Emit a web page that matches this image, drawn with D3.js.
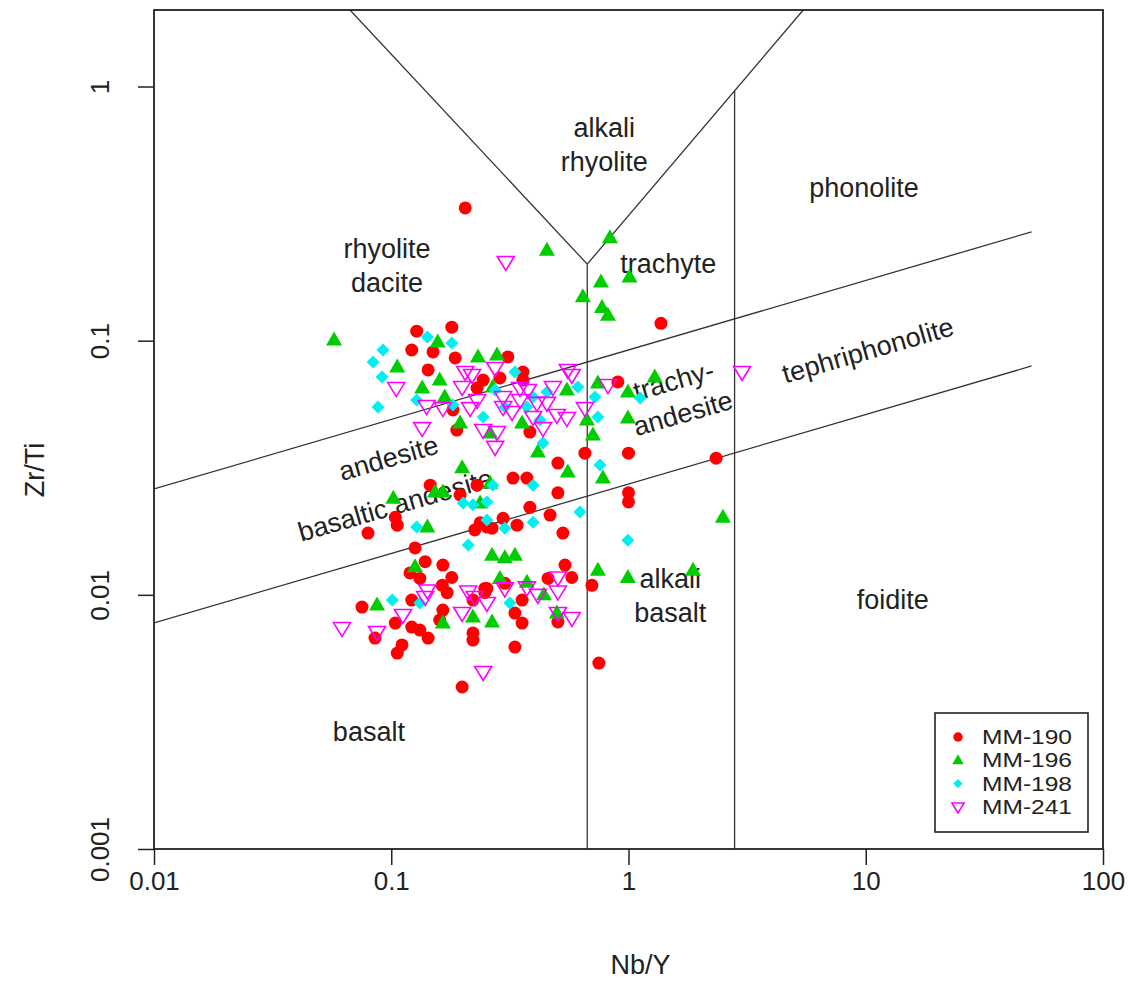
<!DOCTYPE html>
<html><head><meta charset="utf-8">
<script src="https://cdn.jsdelivr.net/npm/d3@7"></script>
<style>
body{margin:0;background:#fff}
text{font-family:"Liberation Sans",Arial,Helvetica,sans-serif;fill:#222}
</style>
</head><body>
<svg id="chart" width="1128" height="990"></svg>
<script>
// ---- data: [Nb/Y, Zr/Ti] ----
const mm190 = [
[0.205,0.333],[1.37,0.117],[0.902,0.0688],[1.00,0.0361],[2.34,0.0345],[1.00,0.0252],[1.00,0.0232],
[0.701,0.0109],[0.750,0.00539],[0.128,0.109],[0.122,0.0919],[0.180,0.113],[0.150,0.0903],[0.186,0.0855],
[0.143,0.0767],[0.310,0.0863],[0.359,0.0753],[0.359,0.0700],[0.244,0.0700],[0.230,0.0651],[0.287,0.0713],
[0.182,0.0534],[0.189,0.0445],[0.384,0.0437],[0.655,0.0361],[0.504,0.0330],[0.326,0.0288],[0.373,0.0288],
[0.504,0.0252],[0.384,0.0221],[0.467,0.0206],[0.529,0.0175],[0.253,0.0185],[0.296,0.0200],[0.339,0.0188],
[0.540,0.0131],[0.577,0.0117],[0.458,0.0116],[0.248,0.0106],[0.301,0.0111],[0.356,0.00954],[0.332,0.00848],
[0.356,0.00774],[0.504,0.00782],[0.332,0.00623],[0.0798,0.0175],[0.104,0.0202],[0.106,0.0188],[0.126,0.0153],
[0.139,0.0135],[0.165,0.0131],[0.180,0.0117],[0.120,0.0122],[0.164,0.0109],[0.172,0.0102],[0.0753,0.00895],
[0.122,0.00954],[0.104,0.00774],[0.122,0.00747],[0.132,0.00727],[0.143,0.00676],[0.0854,0.00676],[0.111,0.00635],
[0.106,0.00590],[0.165,0.00871],[0.160,0.00796],[0.221,0.00708],[0.221,0.00664],[0.199,0.00434],[0.230,0.0270],
[0.195,0.0247],[0.225,0.0180],[0.237,0.0192],[0.266,0.0183],[0.253,0.0106],[0.221,0.00954],[0.248,0.0102],
[0.146,0.0270],[0.132,0.0116]
];
const mm196 = [
[0.453,0.227],[0.835,0.254],[0.765,0.170],[1.01,0.178],[0.642,0.149],[0.773,0.135],[0.819,0.126],
[1.29,0.0720],[0.994,0.0628],[0.994,0.0496],[2.50,0.0202],[0.550,0.0640],[0.743,0.0682],[0.668,0.0487],
[0.708,0.0425],[0.555,0.0304],[0.780,0.0288],[0.266,0.0143],[0.301,0.0140],[0.332,0.0143],[0.743,0.0125],
[0.994,0.0117],[1.87,0.0125],[0.266,0.00782],[0.287,0.0116],[0.373,0.0112],[0.44,0.0100],[0.499,0.00848],
[0.199,0.0316],[0.153,0.0254],[0.165,0.0254],[0.102,0.0240],[0.142,0.0185],[0.126,0.0129],[0.0871,0.00912],
[0.165,0.00774],[0.221,0.00818],[0.237,0.0230],[0.261,0.0275],[0.0574,0.1006],[0.106,0.0788],[0.135,0.0651],
[0.157,0.0988],[0.160,0.0700],[0.168,0.0600],[0.232,0.0863],[0.279,0.0878],[0.195,0.0474],[0.356,0.0474],
[0.415,0.0365],[0.261,0.0433],[0.268,0.0657]
];
const mm198 = [
[0.0923,0.0919],[0.0838,0.0825],[0.0914,0.0720],[0.0879,0.0548],[0.128,0.0584],[0.142,0.1034],[0.180,0.0979],
[0.182,0.0558],[0.332,0.0753],[0.274,0.0640],[0.436,0.0396],[0.612,0.0657],[0.722,0.0600],[0.244,0.0501],
[0.373,0.0548],[0.396,0.0600],[0.423,0.0487],[0.301,0.0548],[1.12,0.0595],[0.743,0.0501],[0.453,0.0628],
[0.994,0.0164],[0.396,0.0270],[0.268,0.0270],[0.253,0.0232],[0.396,0.0193],[0.624,0.0212],[0.301,0.0183],
[0.316,0.00929],[0.758,0.0324],[0.128,0.0185],[0.211,0.0157],[0.101,0.00954],[0.132,0.00929],[0.201,0.0230],
[0.221,0.0226],[0.253,0.0197]
];
const mm241 = [
[0.304,0.204],[3.01,0.0753],[0.105,0.0651],[0.135,0.0453],[0.141,0.0553],[0.165,0.0543],[0.205,0.0753],
[0.274,0.0781],[0.199,0.0657],[0.244,0.0445],[0.274,0.0382],[0.323,0.0524],[0.396,0.0501],[0.436,0.0453],
[0.499,0.0510],[0.577,0.0733],[0.480,0.0657],[0.655,0.0543],[0.550,0.0496],[0.296,0.0600],[0.349,0.0584],
[0.411,0.0569],[0.230,0.0584],[0.377,0.0640],[0.219,0.0733],[0.296,0.0548],[0.279,0.0437],[0.349,0.0651],
[0.453,0.0569],[0.215,0.0543],[0.555,0.0767],[0.819,0.0669],[0.0620,0.00740],[0.0871,0.00714],[0.142,0.0104],
[0.112,0.00833],[0.199,0.00848],[0.211,0.0103],[0.225,0.00980],[0.253,0.00929],[0.244,0.00497],[0.301,0.0106],
[0.373,0.0107],[0.415,0.0100],[0.504,0.0117],[0.504,0.0103],[0.504,0.00848],[0.577,0.00811],[0.139,0.00980]
];
const seriesNames = ["MM-190","MM-196","MM-198","MM-241"];
const seriesColors = ["#ff0000","#00cd00","#00f0f0","#ff00ff"];
const xTicks = [0.01,0.1,1,10,100];
const xTickLabels = ["0.01","0.1","1","10","100"];
const yTicks = [0.001,0.01,0.1,1];
const yTickLabels = ["0.001","0.01","0.1","1"];
const xDomain = [0.01,100];
const yDomain = [0.001,2];
// field boundaries (Nb/Y, Zr/Ti)
const leftArm = [[0.067,2],[0.67,0.2]];
const rightArm = [[0.67,0.2],[5.45,2]];
const vertLeft = [[0.67,0.001],[0.67,0.2]];
const vertRight = [[2.8,0.001],[2.8,0.963]];
const upperSlope = [[0.01,0.0261],[50,0.268]];
const lowerSlope = [[0.01,0.00775],[50,0.0795]];
const fieldLabelText = [["alkali","rhyolite"],["phonolite"],["rhyolite","dacite"],["trachyte"],["tephriphonolite"],
  ["trachy-","andesite"],["andesite"],["basaltic andesite"],["alkali","basalt"],["foidite"],["basalt"]];
const fieldLabelPos = [[0.79,0.589],[9.84,0.399],[0.0959,0.197],[1.47,0.202],[10.2,0.0919],
  [1.62,0.0601],[0.0973,0.0346],[0.104,0.0226],[1.50,0.0099],[13.0,0.00955],[0.0805,0.00289]];
const fieldLabelAngle = [0,0,0,0,-16,-16,-16,-16,0,0,0];

// ---- drawing ----
const svg = d3.select("#chart");
const L=154, R=1103, T=10, B=849;
const x = d3.scaleLog().domain(xDomain).range([L,R]);
const y = d3.scaleLog().domain(yDomain).range([B,T]);

svg.append("clipPath").attr("id","clip").append("rect")
  .attr("x",L).attr("y",T).attr("width",R-L).attr("height",B-T);

const line = d3.line().x(d=>x(d[0])).y(d=>y(d[1]));
const gl = svg.append("g").attr("clip-path","url(#clip)");
[leftArm,rightArm,vertLeft,vertRight,upperSlope,lowerSlope].forEach(s=>{
  gl.append("path").attr("d",line(s)).attr("fill","none").attr("stroke","#333").attr("stroke-width",1.3);
});

// field labels
fieldLabelText.forEach((lines,i)=>{
  const px=x(fieldLabelPos[i][0]), py=y(fieldLabelPos[i][1]);
  const t=svg.append("text").attr("text-anchor","middle").attr("font-size",27)
    .attr("transform",`translate(${px},${py}) rotate(${fieldLabelAngle[i]})`);
  const n=lines.length;
  lines.forEach((s,j)=>{
    t.append("tspan").attr("x",0).attr("y",(j-(n-1)/2)*34).attr("dy","0.35em").text(s);
  });
});

// symbols
function shape(g, k, s, col){
  if(k===0){ g.append("circle").attr("r",6.5*s).attr("fill",col); }
  else if(k===1){ g.append("path").attr("d",`M0,${-8.5*s}L${8*s},${5.5*s}L${-8*s},${5.5*s}Z`).attr("fill",col); }
  else if(k===2){ g.append("path").attr("d",`M0,${-6.5*s}L${6.5*s},0L0,${6.5*s}L${-6.5*s},0Z`).attr("fill",col); }
  else { g.append("path").attr("d",`M${-8.5*s},${-5.5*s}L${8.5*s},${-5.5*s}L0,${8.5*s}Z`)
      .attr("fill","none").attr("stroke",col).attr("stroke-width",1.6); }
}
const gp = svg.append("g").attr("clip-path","url(#clip)");
[mm190,mm196,mm198,mm241].forEach((arr,k)=>{
  gp.selectAll(null).data(arr).enter().append("g")
    .attr("transform",d=>`translate(${x(d[0])},${y(d[1])})`)
    .each(function(){ shape(d3.select(this),k,1,seriesColors[k]); });
});

// box
svg.append("rect").attr("x",L).attr("y",T).attr("width",R-L).attr("height",B-T)
  .attr("fill","none").attr("stroke","#222").attr("stroke-width",1.8);

// axes
const xa = svg.append("g").attr("transform",`translate(0,${B})`)
  .call(d3.axisBottom(x).tickValues(xTicks).tickSize(16).tickFormat((d,i)=>xTickLabels[i]));
xa.select(".domain").remove();
xa.selectAll("line").attr("stroke","#222").attr("stroke-width",1.5);
xa.selectAll("text").attr("font-size",26).attr("y",32).attr("dy","0.35em").attr("fill","#222")
  .style("font-family","'Liberation Sans',Arial,sans-serif");

const ya = svg.append("g").attr("transform",`translate(${L},0)`)
  .call(d3.axisLeft(y).tickValues(yTicks).tickSize(16).tickFormat((d,i)=>yTickLabels[i]));
ya.select(".domain").remove();
ya.selectAll("line").attr("stroke","#222").attr("stroke-width",1.5);
ya.selectAll("text").attr("font-size",26).attr("x",0).attr("dy",null).attr("text-anchor","middle")
  .attr("dominant-baseline","central").attr("fill","#222")
  .attr("transform","translate(-54,0) rotate(-90)")
  .style("font-family","'Liberation Sans',Arial,sans-serif");

// axis titles
svg.append("text").attr("x",(L+R)/2 + 12).attr("y",965).attr("dy","0.35em").attr("text-anchor","middle")
  .attr("font-size",27).text("Nb/Y");
svg.append("text").attr("transform","translate(35,470) rotate(-90)").attr("dy","0.35em")
  .attr("text-anchor","middle").attr("font-size",27).text("Zr/Ti");

// legend
const lg = svg.append("g");
lg.append("rect").attr("x",935).attr("y",713).attr("width",153).attr("height",119)
  .attr("fill","#fff").attr("stroke","#222").attr("stroke-width",1.6);
seriesNames.forEach((nm,k)=>{
  const yy = 737 + k*23.3;
  const g = lg.append("g").attr("transform",`translate(958,${yy})`);
  shape(g,k,0.72,seriesColors[k]);
  lg.append("text").attr("x",982).attr("y",yy).attr("dy","0.36em").attr("font-size",19.5)
    .attr("textLength",90).attr("lengthAdjust","spacingAndGlyphs").text(nm);
});
</script>
</body></html>
